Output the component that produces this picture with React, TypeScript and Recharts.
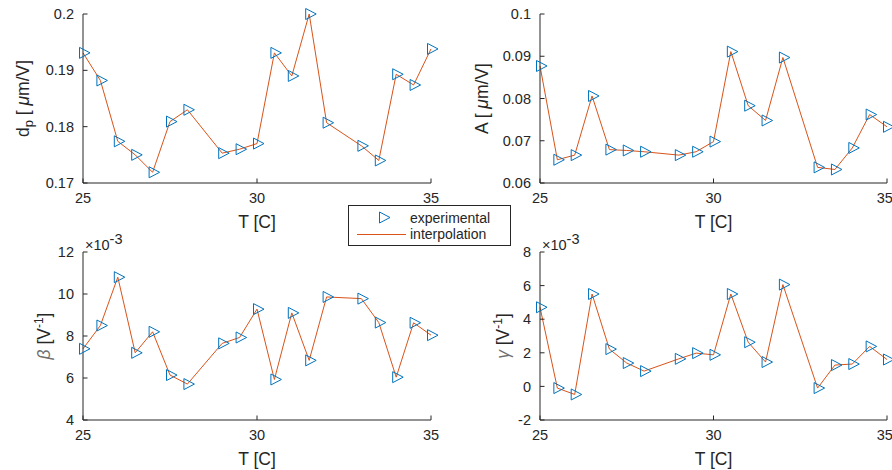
import React from 'react'
import { LineChart, Line, XAxis, YAxis } from 'recharts'

// temperatures of the measurements [C]
const temps = [25, 25.5, 26, 26.5, 27, 27.5, 28, 29, 29.5, 30, 30.5, 31, 31.5, 32, 33, 33.5, 34, 34.5, 35]

// d_p [um/V]
const dp = [0.1931, 0.1882, 0.1774, 0.175, 0.1719, 0.1809, 0.183, 0.1753, 0.176, 0.177, 0.1931, 0.189, 0.2, 0.1807, 0.1766, 0.174, 0.1893, 0.1874, 0.1938]
// A [um/V]
const amp = [0.0877, 0.0655, 0.0666, 0.0806, 0.0679, 0.0677, 0.0674, 0.0666, 0.0674, 0.0698, 0.0911, 0.0783, 0.0748, 0.0897, 0.0637, 0.0632, 0.0683, 0.0762, 0.0733]
// beta [1/V]
const beta = [7.39e-3, 8.5e-3, 10.8e-3, 7.2e-3, 8.2e-3, 6.14e-3, 5.71e-3, 7.65e-3, 7.93e-3, 9.28e-3, 5.93e-3, 9.1e-3, 6.84e-3, 9.86e-3, 9.78e-3, 8.64e-3, 6.04e-3, 8.63e-3, 8.04e-3]
// gamma [1/V]
const gamma = [4.71e-3, -0.1e-3, -0.48e-3, 5.5e-3, 2.22e-3, 1.39e-3, 0.91e-3, 1.64e-3, 1.98e-3, 1.88e-3, 5.5e-3, 2.63e-3, 1.45e-3, 6.06e-3, -0.1e-3, 1.27e-3, 1.33e-3, 2.38e-3, 1.6e-3]

const xTicks = [25, 30, 35]
const dpTicks = [0.17, 0.18, 0.19, 0.2]
const ampTicks = [0.06, 0.07, 0.08, 0.09, 0.1]
const betaTicks = [0.004, 0.006, 0.008, 0.01, 0.012]
const gammaTicks = [-0.002, 0, 0.002, 0.004, 0.006, 0.008]

const BLUE = '#0072BD'
const ORANGE = '#D95319'
const INK = '#262626'
const FONT = '"Liberation Sans", Arial, Helvetica, sans-serif'

const tri = (cx: number, cy: number) => `M${cx - 3.5},${cy - 5.5} L${cx + 7},${cy} L${cx - 3.5},${cy + 5.5} Z`

const Marker = (p: any) => {
  if (p.cx == null || p.cy == null) return <g key={p.key} />
  return <path key={p.key} d={tri(p.cx, p.cy)} fill="none" stroke={BLUE} strokeWidth={1} />
}

const xTitle = (props: any) => {
  const vb = props.viewBox || {}
  return (
    <text x={vb.x + vb.width / 2} y={vb.y + 45} textAnchor="middle" fontSize={17.5} fill={INK}>T [C]</text>
  )
}

const yTitle = (offset: number, body: React.ReactNode, exp: boolean) => (props: any) => {
  const vb = props.viewBox || {}
  const px = vb.x + vb.width
  const cy = vb.y + vb.height / 2
  const bx = px - offset
  return (
    <g>
      <text x={bx} y={cy} transform={`rotate(-90, ${bx}, ${cy})`} textAnchor="middle" fontSize={17.5} fill={INK}>
        {body}
      </text>
      {exp && (
        <text x={px + 2} y={vb.y - 2} fontSize={14.5} fill={INK}>
          ×10<tspan dy={-6}>-3</tspan>
        </text>
      )}
    </g>
  )
}

const dpLabel = (
  <>
    <tspan>d</tspan>
    <tspan dy={4} fontSize={13}>p</tspan>
    <tspan dy={-4}> [ </tspan>
    <tspan fontStyle="italic">μ</tspan>
    <tspan>m/V]</tspan>
  </>
)
const ampLabel = (
  <>
    <tspan>A [ </tspan>
    <tspan fontStyle="italic">μ</tspan>
    <tspan>m/V]</tspan>
  </>
)
const invLabel = (sym: string) => (
  <>
    <tspan fontStyle="italic" fill="#707070">{sym}</tspan>
    <tspan> [V</tspan>
    <tspan dy={-7} fontSize={12}>-1</tspan>
    <tspan dy={7}>]</tspan>
  </>
)

interface PanelProps {
  left: number
  top: number
  height: number
  values: number[]
  domain: [number, number]
  ticks: number[]
  fmt: (v: number) => string
  marginTop: number
  marginRight: number
  yWidth: number
  xHeight: number
  titleOffset: number
  title: React.ReactNode
  exp?: boolean
}

function Panel(p: PanelProps) {
  const rows = temps.map((t, i) => ({ t, v: p.values[i] }))
  const tickStyle = { fill: INK, fontSize: 14.5 }
  return (
    <div style={{ position: 'absolute', left: p.left, top: p.top }}>
      <LineChart width={446} height={p.height} data={rows}
        margin={{ top: p.marginTop, right: p.marginRight, bottom: 0, left: 0 }}>
        <XAxis dataKey="t" type="number" domain={[25, 35]} ticks={xTicks} height={p.xHeight}
          tick={tickStyle} tickSize={-4.5} tickMargin={14.5}
          axisLine={{ stroke: INK }} tickLine={{ stroke: INK }} label={{ content: xTitle }} />
        <XAxis xAxisId="top" orientation="top" type="number" domain={[25, 35]} ticks={xTicks} height={0}
          tick={false} tickSize={-4.5} axisLine={{ stroke: INK }} tickLine={{ stroke: INK }} />
        <YAxis type="number" domain={p.domain} ticks={p.ticks} width={p.yWidth} tickFormatter={p.fmt}
          tick={tickStyle} tickSize={-4.5} tickMargin={13.5}
          axisLine={{ stroke: INK }} tickLine={{ stroke: INK }}
          label={{ content: yTitle(p.titleOffset, p.title, !!p.exp) }} />
        <YAxis yAxisId="right" orientation="right" type="number" domain={p.domain} ticks={p.ticks} width={0}
          tick={false} tickSize={-4.5} axisLine={{ stroke: INK }} tickLine={{ stroke: INK }} />
        <Line dataKey="v" stroke="none" dot={Marker} activeDot={false} isAnimationActive={false} />
        <Line dataKey="v" stroke={ORANGE} strokeWidth={1} dot={false} activeDot={false} isAnimationActive={false} />
      </LineChart>
    </div>
  )
}

const plain = (v: number) => String(v)
const milli = (v: number) => String(Math.round(v * 1000))

export default function App() {
  return (
    <div style={{ position: 'absolute', left: 0, top: 0, width: 892, height: 470, background: '#fff', fontFamily: FONT, overflow: 'hidden' }}>
      <Panel left={0} top={0} height={235} values={dp} domain={[0.17, 0.2]} ticks={dpTicks} fmt={plain}
        marginTop={14} marginRight={15} yWidth={83} xHeight={52} titleOffset={54} title={dpLabel} />
      <Panel left={446} top={0} height={235} values={amp} domain={[0.06, 0.1]} ticks={ampTicks} fmt={plain}
        marginTop={14} marginRight={5} yWidth={94} xHeight={52} titleOffset={52} title={ampLabel} />
      <Panel left={0} top={220} height={250} values={beta} domain={[0.004, 0.012]} ticks={betaTicks} fmt={milli}
        marginTop={32} marginRight={15} yWidth={83} xHeight={50} titleOffset={33} title={invLabel('β')} exp />
      <Panel left={446} top={220} height={250} values={gamma} domain={[-0.002, 0.008]} ticks={gammaTicks} fmt={milli}
        marginTop={32} marginRight={5} yWidth={94} xHeight={50} titleOffset={31} title={invLabel('γ')} exp />
      <div style={{ position: 'absolute', left: 348, top: 205, width: 163, height: 41, border: `1px solid ${INK}`, background: '#fff', boxSizing: 'border-box' }}>
        <svg width={161} height={39} style={{ position: 'absolute', left: 0, top: 0 }}>
          <path d={tri(34, 11.5)} fill="none" stroke={BLUE} strokeWidth={1} />
          <line x1={8} x2={57} y1={28.5} y2={28.5} stroke={ORANGE} strokeWidth={1} />
          <text x={61} y={16.7} fontSize={14} fill={INK}>experimental</text>
          <text x={61} y={33.3} fontSize={14} fill={INK}>interpolation</text>
        </svg>
      </div>
    </div>
  )
}
